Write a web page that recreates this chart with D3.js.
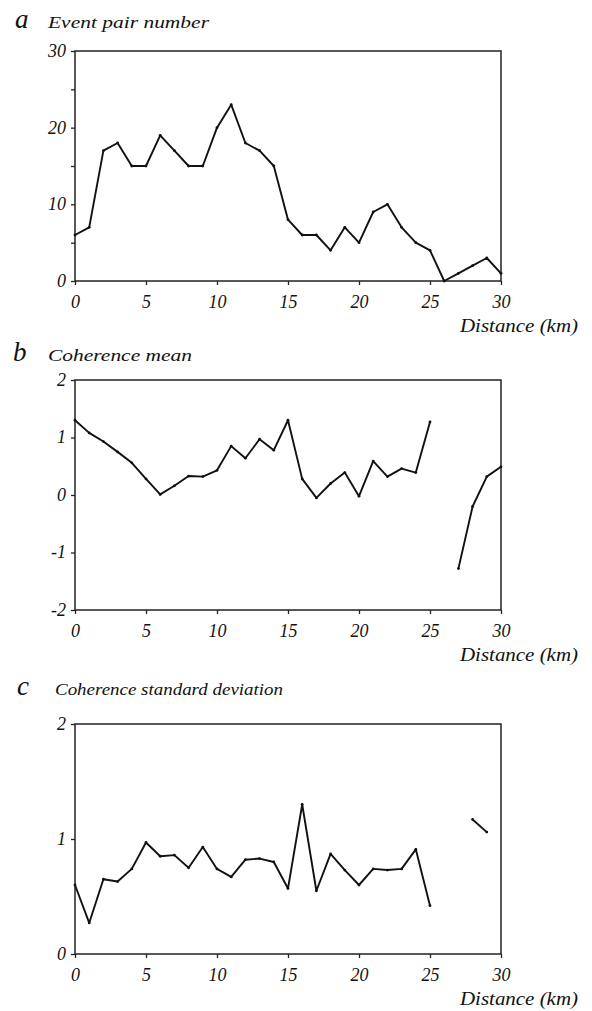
<!DOCTYPE html>
<meta charset="utf-8"/>
<style>
  body { margin: 0; background: #fff; }
  svg text { font-family: "Liberation Serif", "Times New Roman", Times, "Nimbus Roman", serif; fill: #111; }
</style>
<svg width="592" height="1011"></svg>
<script src="https://cdnjs.cloudflare.com/ajax/libs/d3/7.8.5/d3.min.js"></script>
<script>

// distance in km, 0..30
var distance = d3.range(0, 31);

var pairNumber = [6, 7, 17, 18, 15, 15, 19, 17, 15, 15, 20, 23, 18, 17, 15, 8,
                  6, 6, 4, 7, 5, 9, 10, 7, 5, 4, 0, 1, 2, 3, 1];

var cohMean = [1.30, 1.08, 0.93, 0.75, 0.56, 0.28, 0.01, 0.16, 0.33, 0.32, 0.43,
               0.85, 0.64, 0.97, 0.78, 1.30, 0.28, -0.05, 0.20, 0.39, -0.02,
               0.59, 0.32, 0.46, 0.39, 1.27, null, -1.28, -0.20, 0.32, 0.49];

var cohStd = [0.60, 0.27, 0.65, 0.63, 0.74, 0.97, 0.85, 0.86, 0.75, 0.93, 0.74,
              0.67, 0.82, 0.83, 0.80, 0.57, 1.30, 0.55, 0.87, 0.73, 0.60,
              0.74, 0.73, 0.74, 0.91, 0.42, null, null, 1.17, 1.06, null];

var xTicks = [0, 5, 10, 15, 20, 25, 30];

var panels = [
  {letter: "a", title: "Event pair number", titleLen: 161, values: pairNumber,
   domain: [0, 30], ticks: [0, 10, 20, 30], minor: [5, 15, 25],
   top: 51, bottom: 281, labelY: 28, letterX: 15, titleX: 48},
  {letter: "b", title: "Coherence mean", titleLen: 144, values: cohMean,
   domain: [-2, 2], ticks: [-2, -1, 0, 1, 2], minor: [],
   top: 380, bottom: 610, labelY: 361, letterX: 13, titleX: 48},
  {letter: "c", title: "Coherence standard deviation", titleLen: 228, values: cohStd,
   domain: [0, 2], ticks: [0, 1, 2], minor: [],
   top: 724, bottom: 954, labelY: 695, letterX: 17, titleX: 55}
];

var fontList = '"Liberation Serif", "Times New Roman", Times, "Nimbus Roman", serif';

var svg = d3.select("svg");
var left = 75, right = 501;

var x = d3.scaleLinear().domain([0, 30]).range([left, right]);

panels.forEach(function(p) {
  var y = d3.scaleLinear().domain(p.domain).range([p.bottom, p.top]);
  var g = svg.append("g");

  // panel letter and title
  g.append("text")
      .attr("x", p.letterX)
      .attr("y", p.labelY)
      .style("font-style", "italic")
      .style("font-size", "27px")
      .text(p.letter);

  g.append("text")
      .attr("x", p.titleX)
      .attr("y", p.labelY)
      .attr("textLength", p.titleLen)
      .attr("lengthAdjust", "spacingAndGlyphs")
      .style("font-style", "italic")
      .style("font-size", "17px")
      .text(p.title);

  // frame
  g.append("rect")
      .attr("x", left)
      .attr("y", p.top)
      .attr("width", right - left)
      .attr("height", p.bottom - p.top)
      .attr("fill", "none")
      .attr("stroke", "#222")
      .attr("stroke-width", 1.5);

  var xAxis = g.append("g")
      .attr("transform", "translate(0," + p.bottom + ")")
      .call(d3.axisBottom(x).tickValues(xTicks).tickSize(4).tickPadding(6));

  var yAxis = g.append("g")
      .attr("transform", "translate(" + left + ",0)")
      .call(d3.axisLeft(y).tickValues(p.ticks.concat(p.minor)).tickSize(4).tickPadding(5)
        .tickFormat(function(d) { return p.minor.indexOf(d) >= 0 ? "" : d; }));

  [xAxis, yAxis].forEach(function(ax) {
    ax.attr("font-family", fontList);
    ax.select(".domain").remove();
    ax.selectAll("line").attr("stroke", "#222").attr("stroke-width", 1.3);
    ax.selectAll("text")
        .attr("fill", "#111")
        .style("font-style", "italic")
        .style("font-size", "18px");
  });
  xAxis.selectAll("text").attr("dy", "0.95em");
  yAxis.selectAll("text").attr("dy", "0.3em");

  g.append("text")
      .attr("x", 578)
      .attr("y", p.bottom + 51)
      .attr("text-anchor", "end")
      .attr("textLength", 118)
      .attr("lengthAdjust", "spacingAndGlyphs")
      .style("font-style", "italic")
      .style("font-size", "19px")
      .text("Distance (km)");

  var pts = distance.map(function(d, k) { return {d: d, v: p.values[k]}; });

  var line = d3.line()
      .defined(function(d) { return d.v != null; })
      .x(function(d) { return x(d.d); })
      .y(function(d) { return y(d.v); });

  g.append("path")
      .datum(pts)
      .attr("fill", "none")
      .attr("stroke", "#111")
      .attr("stroke-width", 1.9)
      .attr("stroke-linejoin", "round")
      .attr("d", line);

  g.selectAll("circle")
      .data(pts.filter(function(d) { return d.v != null; }))
    .enter().append("circle")
      .attr("cx", function(d) { return x(d.d); })
      .attr("cy", function(d) { return y(d.v); })
      .attr("r", 1.4)
      .attr("fill", "#111");
});

</script>
